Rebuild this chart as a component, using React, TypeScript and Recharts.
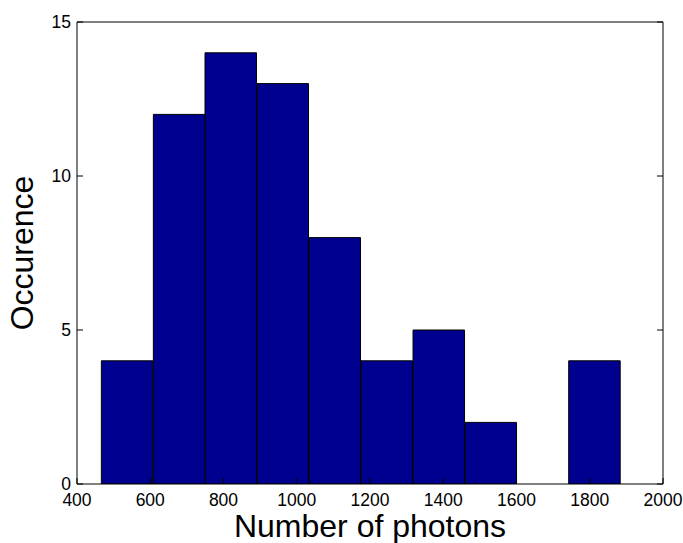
import { BarChart, Bar, XAxis, YAxis, Label } from "recharts";

// histogram bins (centre of each bin, in photons) and their counts
const binCenters = [537, 679, 820, 962, 1104, 1246, 1388, 1530, 1671, 1813];
const counts = [4, 12, 14, 13, 8, 4, 5, 2, 0, 4];
const xTicks = [400, 600, 800, 1000, 1200, 1400, 1600, 1800, 2000];
const yTicks = [0, 5, 10, 15];

const data = binCenters.map((center, i) => ({ center, count: counts[i] }));

const FONT = "'Liberation Sans', Arial, Helvetica, sans-serif";
const TICK_LEN = 6;

function BottomTick({ x, y, payload }: any) {
  return (
    <g>
      <line x1={x} y1={y} x2={x} y2={y - TICK_LEN} stroke="#000" />
      <text x={x} y={y + 21.5} textAnchor="middle" fontSize={17.5} fill="#000" fontFamily={FONT}>
        {payload.value}
      </text>
    </g>
  );
}

function TopTick({ x, y }: any) {
  return <line x1={x} y1={y} x2={x} y2={y + TICK_LEN} stroke="#000" />;
}

function LeftTick({ x, y, payload }: any) {
  return (
    <g>
      <line x1={x} y1={y} x2={x + TICK_LEN} y2={y} stroke="#000" />
      <text x={x - 6} y={y + 6} textAnchor="end" fontSize={17.5} fill="#000" fontFamily={FONT}>
        {payload.value}
      </text>
    </g>
  );
}

function RightTick({ x, y }: any) {
  return <line x1={x} y1={y} x2={x - TICK_LEN} y2={y} stroke="#000" />;
}

export default function App() {
  return (
    <div style={{ position: "absolute", left: 0, top: 0, background: "#fff" }}>
      <BarChart
        width={683}
        height={543}
        data={data}
        margin={{ top: 21, right: 19, bottom: 0, left: 0 }}
        barCategoryGap={0}
        barGap={0}
        style={{ fontFamily: FONT }}
      >
        <XAxis
          dataKey="center"
          type="number"
          domain={[400, 2000]}
          ticks={xTicks}
          interval={0}
          height={59}
          tickSize={0}
          tickMargin={0}
          tickLine={false}
          axisLine={{ stroke: "#000" }}
          tick={<BottomTick />}
          allowDataOverflow
        >
          <Label
            content={() => (
              <text x={370} y={537} textAnchor="middle" fontSize={32} fill="#000" fontFamily={FONT}>
                Number of photons
              </text>
            )}
          />
        </XAxis>
        <XAxis
          xAxisId="top"
          orientation="top"
          type="number"
          domain={[400, 2000]}
          ticks={xTicks}
          interval={0}
          height={1}
          tickSize={0}
          tickMargin={0}
          tickLine={false}
          axisLine={{ stroke: "#000" }}
          tick={<TopTick />}
          allowDataOverflow
        />
        <YAxis
          type="number"
          domain={[0, 15]}
          ticks={yTicks}
          interval={0}
          width={77}
          tickSize={0}
          tickMargin={0}
          tickLine={false}
          axisLine={{ stroke: "#000" }}
          tick={<LeftTick />}
          allowDataOverflow
        >
          <Label
            content={() => (
              <text
                x={33}
                y={253}
                transform="rotate(-90, 33, 253)"
                textAnchor="middle"
                fontSize={32}
                fill="#000"
                fontFamily={FONT}
              >
                Occurence
              </text>
            )}
          />
        </YAxis>
        <YAxis
          yAxisId="right"
          orientation="right"
          type="number"
          domain={[0, 15]}
          ticks={yTicks}
          interval={0}
          width={1}
          tickSize={0}
          tickMargin={0}
          tickLine={false}
          axisLine={{ stroke: "#000" }}
          tick={<RightTick />}
          allowDataOverflow
        />
        <Bar
          dataKey="count"
          fill="#00008F"
          stroke="#000"
          strokeWidth={1}
          barSize={51.5}
          isAnimationActive={false}
        />
      </BarChart>
    </div>
  );
}
